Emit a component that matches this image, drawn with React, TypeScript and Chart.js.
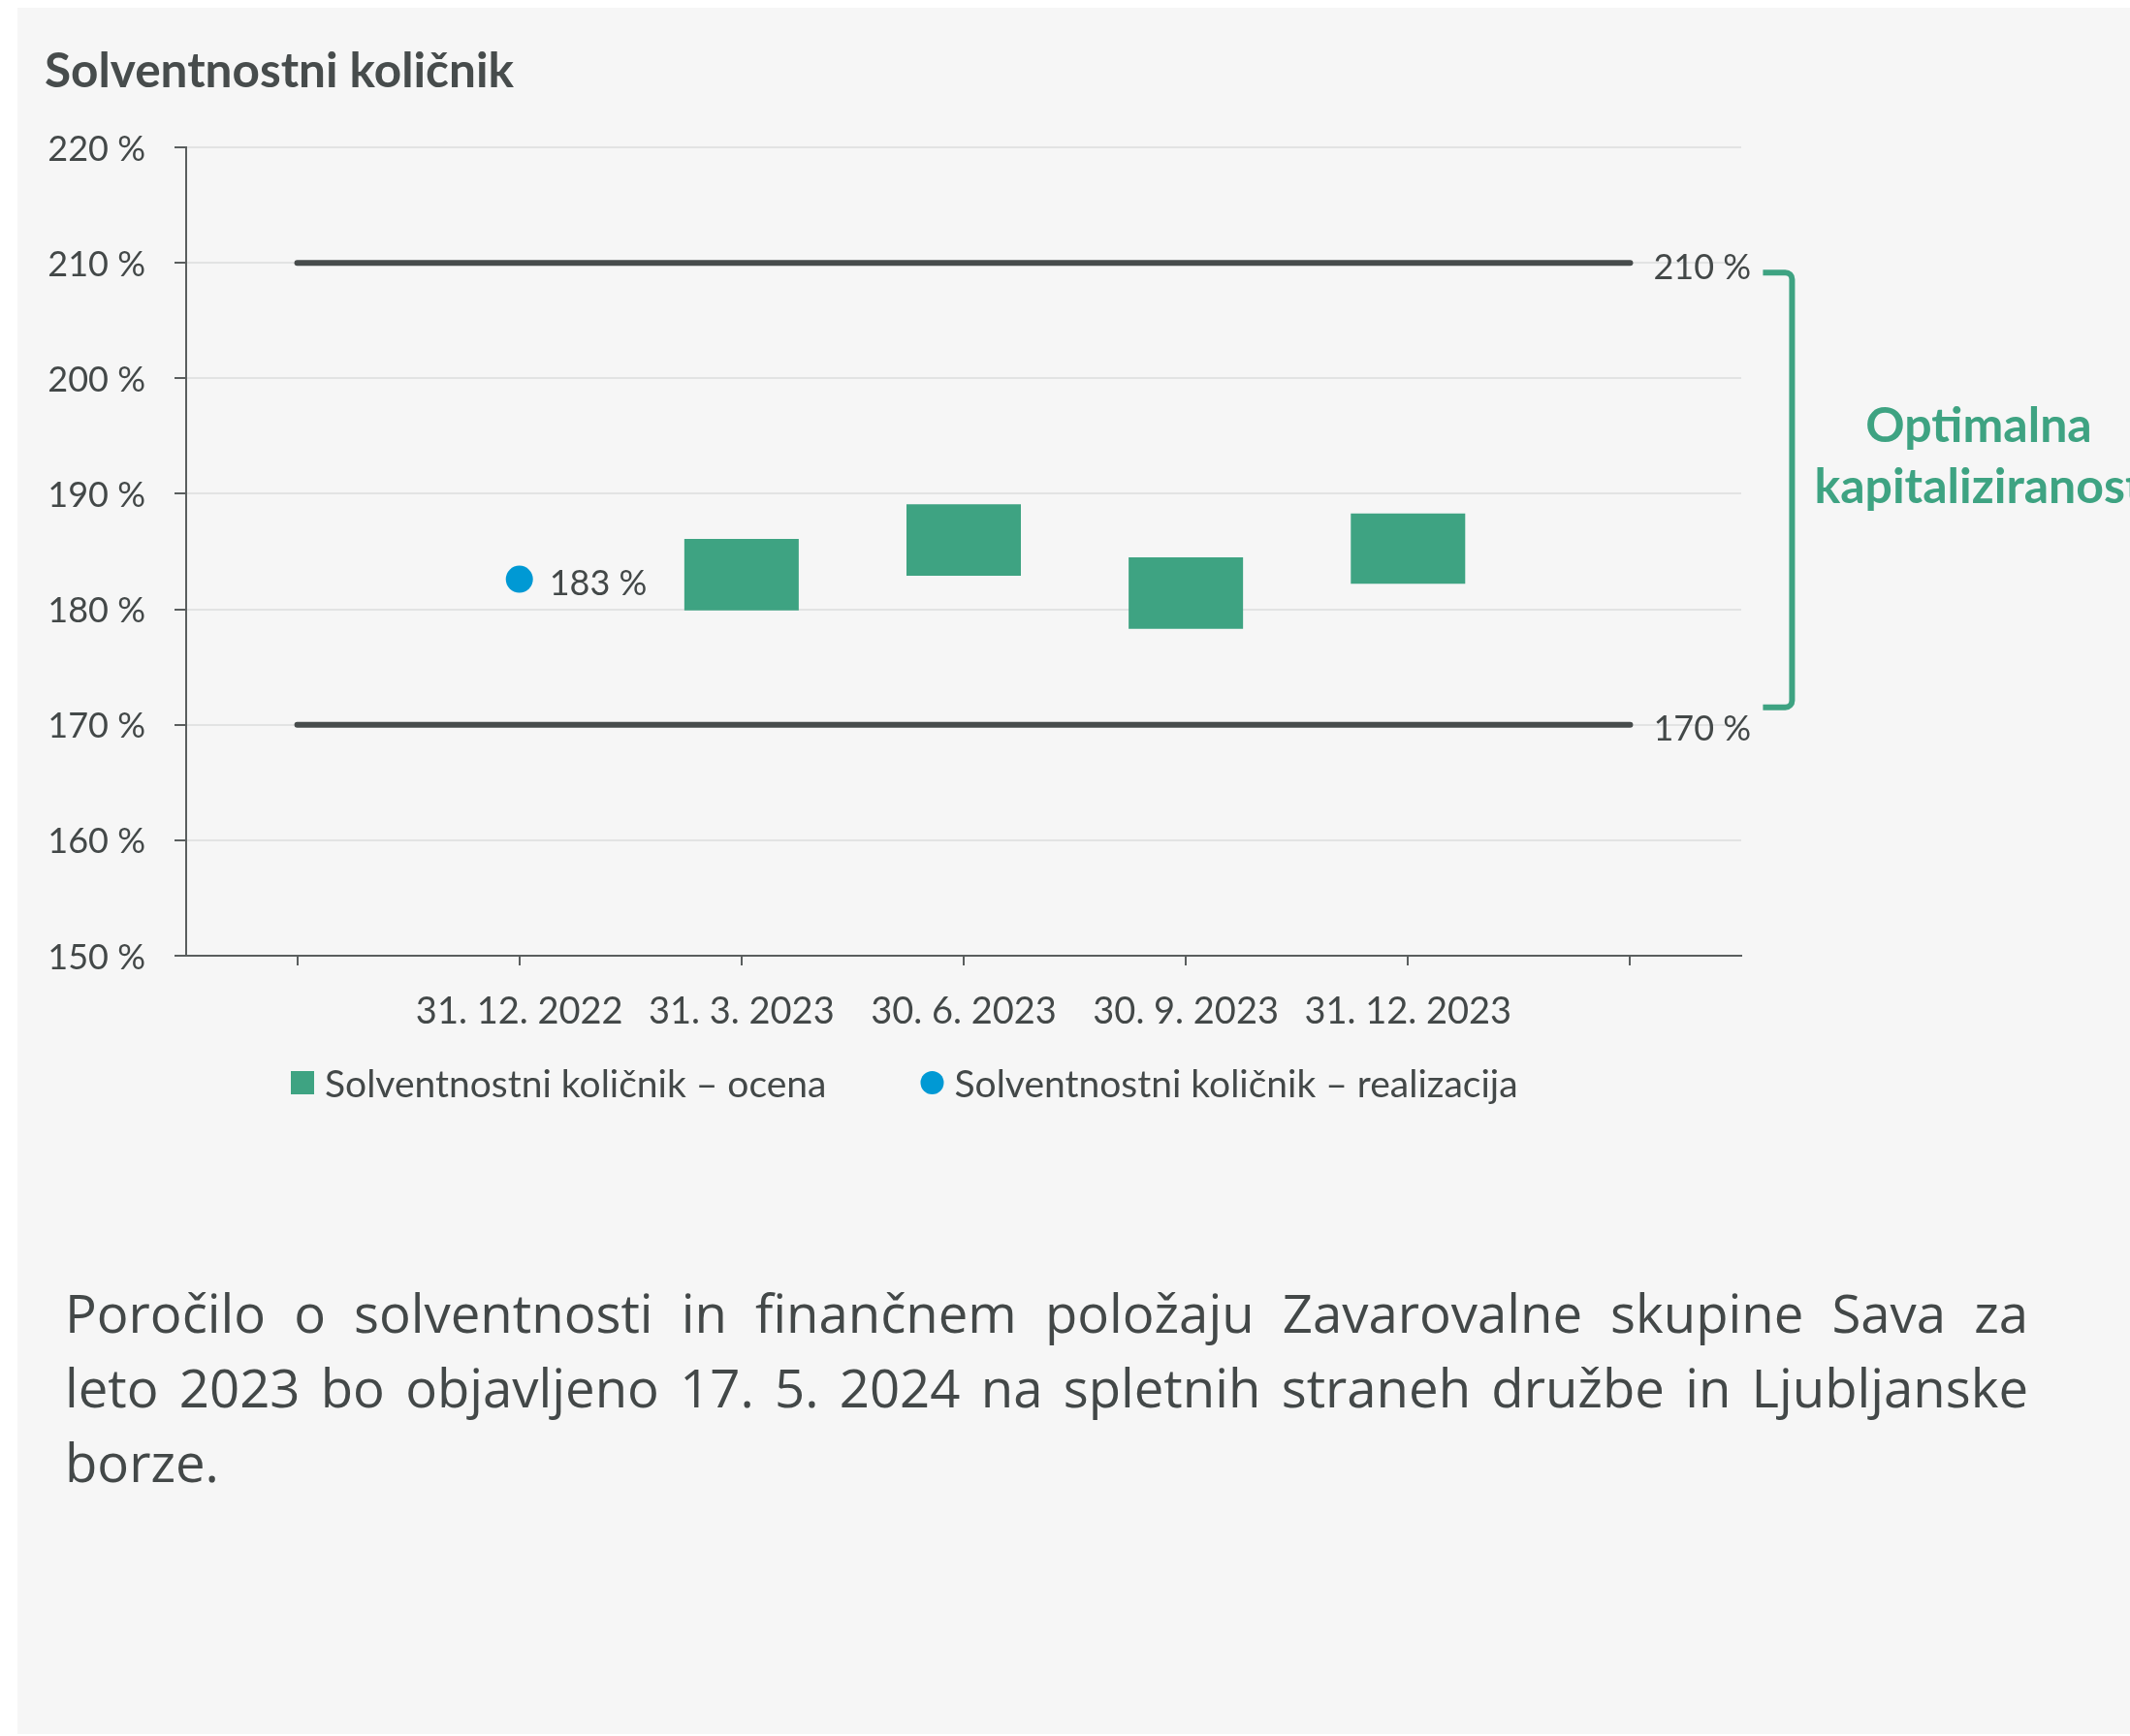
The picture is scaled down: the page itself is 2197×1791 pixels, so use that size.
import React, { useEffect, useRef } from "react";
import { Chart, registerables } from "chart.js";

Chart.register(...registerables);

// ---- data ----
const categories = ["", "31. 12. 2022", "31. 3. 2023", "30. 6. 2023", "30. 9. 2023", "31. 12. 2023", ""];
const estimateLow = [null, null, 179.9, 182.9, 178.3, 182.2, null];
const estimateHigh = [null, null, 186.1, 189.1, 184.5, 188.3, null];
const realization = [null, 182.6, null, null, null, null, null];
const upperBound = [210, 210, 210, 210, 210, 210, 210];
const lowerBound = [170, 170, 170, 170, 170, 170, 170];
const seriesNames = ["Solventnostni količnik – ocena", "Solventnostni količnik – realizacija"];
const yMin = 150;
const yMax = 220;
const yStep = 10;
const titleText = "Solventnostni količnik";
const bracketLines = ["Optimalna", "kapitaliziranost"];
const paragraphLines = [
  "Poročilo o solventnosti in finančnem položaju Zavarovalne skupine Sava za",
  "leto 2023 bo objavljeno 17. 5. 2024 na spletnih straneh družbe in Ljubljanske",
  "borze.",
];

// ---- styles ----
const GREEN = "#3ea382";
const BLUE = "#0099d4";
const DARK = "#474c4c";
const AXIS = "#5a5e5e";
const GRID = "#e2e3e3";
const TEXT = "#434848";
const FONT = "Lato";

const annotPlugin = {
  id: "annot",
  afterDatasetsDraw(chart: any) {
    const ctx = chart.ctx;
    const y = chart.scales.y;
    ctx.save();
    ctx.font = `36px ${FONT}`;
    ctx.fillStyle = TEXT;
    ctx.textBaseline = "middle";
    ctx.textAlign = "left";
    // value label beside the realization point
    const m1 = chart.getDatasetMeta(1);
    m1.data.forEach((pt: any, i: number) => {
      const v = realization[i];
      if (v == null) return;
      ctx.fillText(Math.round(v) + " %", pt.x + 31, pt.y + 5);
    });
    // labels at the end of the bound lines
    let lastX = 0;
    [2, 3].forEach((di) => {
      const meta = chart.getDatasetMeta(di);
      const n = meta.data.length - 1;
      const last = meta.data[n];
      const v = chart.data.datasets[di].data[n];
      lastX = last.x;
      ctx.fillText(v + " %", last.x + 24, last.y + 5);
    });
    // bracket
    const top = y.getPixelForValue(upperBound[upperBound.length - 1]) + 10;
    const bot = y.getPixelForValue(lowerBound[lowerBound.length - 1]) - 18;
    const x0 = lastX + 137;
    const x1 = x0 + 30;
    ctx.strokeStyle = GREEN;
    ctx.lineWidth = 6;
    ctx.beginPath();
    ctx.moveTo(x0, top);
    ctx.arcTo(x1, top, x1, bot, 7);
    ctx.arcTo(x1, bot, x0, bot, 7);
    ctx.lineTo(x0, bot);
    ctx.stroke();
    ctx.restore();
  },
  afterDraw(chart: any) {
    // legend for the two data series
    const ctx = chart.ctx;
    const ds = chart.data.datasets;
    const cy = 1117;
    let x = 300;
    ctx.save();
    ctx.font = `39px ${FONT}`;
    ctx.fillStyle = TEXT;
    ctx.textBaseline = "middle";
    ctx.textAlign = "left";
    [0, 1].forEach((di) => {
      const d = ds[di];
      ctx.fillStyle = d.backgroundColor;
      if (di === 0) {
        ctx.fillRect(x, cy - 12, 24, 24);
      } else {
        ctx.beginPath();
        ctx.arc(x + 12, cy, 12, 0, Math.PI * 2);
        ctx.fill();
      }
      x += 24 + 11;
      ctx.fillStyle = TEXT;
      ctx.fillText(d.label, x, cy + 2);
      x += ctx.measureText(d.label).width + 97;
    });
    ctx.restore();
  },
};

export default function App() {
  const ref = useRef<HTMLCanvasElement | null>(null);

  useEffect(() => {
    if (!ref.current) return;
    const chart = new Chart(ref.current, {
      type: "bar",
      data: {
        labels: categories,
        datasets: [
          {
            type: "bar",
            label: seriesNames[0],
            data: estimateLow.map((lo, i) => (lo == null || estimateHigh[i] == null ? null : [lo, estimateHigh[i]])) as any,
            backgroundColor: GREEN,
            borderWidth: 0,
            barPercentage: 0.515,
            categoryPercentage: 1,
          } as any,
          {
            type: "line",
            label: seriesNames[1],
            data: realization as any,
            showLine: false,
            pointRadius: 14,
            pointHoverRadius: 14,
            pointBorderWidth: 0,
            backgroundColor: BLUE,
            borderColor: BLUE,
          } as any,
          {
            type: "line",
            label: "upper",
            data: upperBound,
            borderColor: DARK,
            borderWidth: 6,
            pointRadius: 0,
            borderCapStyle: "round",
          } as any,
          {
            type: "line",
            label: "lower",
            data: lowerBound,
            borderColor: DARK,
            borderWidth: 6,
            pointRadius: 0,
            borderCapStyle: "round",
          } as any,
        ],
      },
      options: {
        responsive: false,
        animation: false,
        devicePixelRatio: 1,
        events: [],
        layout: { padding: { left: 0, right: 64, top: 152, bottom: 74 } },
        plugins: {
          tooltip: { enabled: false },
          title: { display: false },
          legend: { display: false },
        },
        scales: {
          x: {
            type: "category",
            offset: true,
            grid: {
              display: true,
              drawOnChartArea: false,
              drawTicks: true,
              tickLength: 10,
              tickColor: AXIS,
              lineWidth: 2,
              offset: false,
            },
            border: { color: AXIS, width: 2 },
            ticks: { font: { family: FONT, size: 38 }, color: TEXT, padding: 25, autoSkip: false, maxRotation: 0 },
            afterFit: (s: any) => {
              s.height = 100;
            },
          },
          y: {
            min: yMin,
            max: yMax,
            ticks: {
              stepSize: yStep,
              font: { family: FONT, size: 36 },
              color: TEXT,
              padding: 30,
              labelOffset: 2,
              callback: (v: any) => v + " %",
            },
            grid: { color: GRID, lineWidth: 2, tickColor: AXIS, tickLength: 12 },
            border: { color: AXIS, width: 2 },
            afterFit: (s: any) => {
              s.width = 192;
            },
          },
        },
      } as any,
      plugins: [annotPlugin],
    });
    return () => chart.destroy();
  }, []);

  return (
    <div
      style={{
        position: "absolute",
        left: 0,
        top: 0,
        width: 2197,
        height: 1791,
        background: "#ffffff",
        overflow: "hidden",
      }}
    >
      <div
        style={{
          position: "absolute",
          left: 18,
          top: 8,
          right: 0,
          bottom: 2,
          background: "#f6f6f6",
        }}
      />
      <div
        style={{
          position: "absolute",
          left: 46,
          top: 47,
          font: `bold 49.5px ${FONT}`,
          lineHeight: "48px",
          color: "#474c4c",
          whiteSpace: "nowrap",
        }}
      >
        {titleText}
      </div>
      <canvas ref={ref} width={1860} height={1160} style={{ position: "absolute", left: 0, top: 0 }} />
      <div
        style={{
          position: "absolute",
          left: 1841,
          top: 406,
          width: 400,
          textAlign: "center",
          font: `bold 50px ${FONT}`,
          lineHeight: "63px",
          color: GREEN,
          whiteSpace: "nowrap",
        }}
      >
        {bracketLines.map((l, i) => (
          <div key={i}>{l}</div>
        ))}
      </div>
      <div
        style={{
          position: "absolute",
          left: 67,
          top: 1316,
          width: 2025,
          fontFamily: "'Open Sans', sans-serif",
          fontSize: 54.5,
          lineHeight: "77px",
          color: TEXT,
        }}
      >
        {paragraphLines.map((l, i) => (
          <div
            key={i}
            style={{
              whiteSpace: "nowrap",
              textAlign: i < paragraphLines.length - 1 ? "justify" : "left",
              textAlignLast: i < paragraphLines.length - 1 ? "justify" : "left",
            }}
          >
            {l}
          </div>
        ))}
      </div>
    </div>
  );
}
